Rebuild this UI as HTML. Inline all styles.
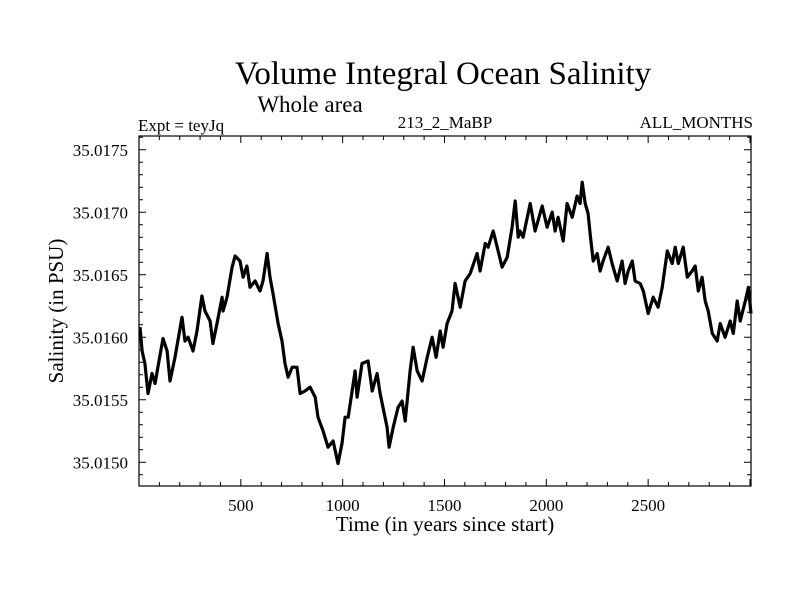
<!DOCTYPE html>
<html><head><meta charset="utf-8"><style>
body{margin:0;background:#fff}
text{font-family:"Liberation Serif",serif;fill:#000}
</style></head><body>
<svg id="chart" width="800" height="600" xmlns="http://www.w3.org/2000/svg">
<rect width="800" height="600" fill="#fff"/>
<text x="443" y="84" font-size="33" text-anchor="middle">Volume Integral Ocean Salinity</text>
<text x="310" y="112" font-size="23" text-anchor="middle">Whole area</text>
<text x="138" y="131" font-size="17">Expt = teyJq</text>
<text x="445" y="128" font-size="17" text-anchor="middle">213_2_MaBP</text>
<text x="753" y="128" font-size="17" text-anchor="end">ALL_MONTHS</text>
<text x="445" y="531" font-size="21" text-anchor="middle">Time (in years since start)</text>
<text transform="translate(63,311) rotate(-90)" font-size="21" text-anchor="middle">Salinity (in PSU)</text>
<g id="axes"></g>
<path id="series" fill="none" stroke="#000" stroke-width="3.2" stroke-linejoin="round"/>
<rect x="139" y="136" width="612" height="350" fill="none" stroke="#000" stroke-width="1.2"/>
</svg>
<script>
const years=[5,15,29,44,64,79,93,118,138,152,177,211,226,241,265,285,309,324,349,363,383,408,413,432,457,472,496,511,530,545,570,594,609,629,643,658,683,702,717,732,752,776,791,815,840,865,879,904,928,953,977,997,1012,1027,1061,1071,1095,1125,1145,1169,1184,1218,1228,1248,1272,1292,1307,1331,1346,1366,1390,1415,1439,1459,1479,1493,1513,1537,1552,1577,1601,1626,1660,1675,1700,1714,1739,1759,1783,1808,1832,1847,1862,1871,1886,1921,1945,1980,2004,2029,2043,2058,2083,2102,2127,2151,2166,2176,2191,2205,2215,2230,2250,2264,2279,2304,2323,2348,2372,2387,2402,2422,2436,2461,2476,2500,2525,2549,2569,2594,2618,2633,2648,2672,2692,2716,2731,2746,2765,2780,2795,2815,2839,2854,2878,2903,2918,2937,2952,2977,2992,3005];
const salinity=[35.01608,35.01589,35.01579,35.01555,35.01571,35.01563,35.01576,35.01599,35.01589,35.01565,35.01584,35.01616,35.01597,35.01600,35.01589,35.01605,35.01633,35.01621,35.01613,35.01595,35.01611,35.01632,35.01621,35.01632,35.01656,35.01665,35.01661,35.01648,35.01657,35.01640,35.01645,35.01637,35.01645,35.01667,35.01648,35.01635,35.01611,35.01597,35.01579,35.01568,35.01576,35.01576,35.01555,35.01557,35.01560,35.01552,35.01536,35.01525,35.01512,35.01517,35.01499,35.01515,35.01536,35.01536,35.01573,35.01552,35.01579,35.01581,35.01557,35.01571,35.01555,35.01528,35.01512,35.01528,35.01544,35.01549,35.01533,35.01573,35.01592,35.01573,35.01565,35.01584,35.01600,35.01584,35.01605,35.01592,35.01611,35.01621,35.01643,35.01624,35.01645,35.01651,35.01667,35.01653,35.01675,35.01672,35.01685,35.01672,35.01656,35.01664,35.01688,35.01709,35.01680,35.01685,35.01680,35.01707,35.01685,35.01705,35.01688,35.01700,35.01685,35.01696,35.01677,35.01707,35.01696,35.01713,35.01707,35.01724,35.01707,35.01699,35.01683,35.01661,35.01667,35.01653,35.01661,35.01672,35.01659,35.01645,35.01661,35.01643,35.01653,35.01661,35.01645,35.01643,35.01637,35.01619,35.01632,35.01624,35.01640,35.01669,35.01659,35.01672,35.01659,35.01672,35.01648,35.01653,35.01657,35.01637,35.01648,35.01629,35.01621,35.01603,35.01597,35.01611,35.01600,35.01613,35.01603,35.01629,35.01613,35.01629,35.01640,35.01619];
const xTickLabels=[500,1000,1500,2000,2500];
const yTickLabels=["35.0150","35.0155","35.0160","35.0165","35.0170","35.0175"];
const X0=139,X1=751,Y0=486,Y1=136,xMax=3005;
const yMin=35.01481,yMax=35.01761;
function xs(t){return X0+(t/xMax)*(X1-X0);}
function ys(v){return Y0-(v-yMin)/(yMax-yMin)*(Y0-Y1);}
const NS="http://www.w3.org/2000/svg";
const axes=document.getElementById('axes');
function line(x1,y1,x2,y2,name){const l=document.createElementNS(NS,'line');
l.setAttribute('x1',x1);l.setAttribute('y1',y1);l.setAttribute('x2',x2);l.setAttribute('y2',y2);
l.setAttribute('stroke','#000');l.setAttribute('stroke-width','1');


axes.appendChild(l);}
function txt(x,y,s,anchor,name){const t=document.createElementNS(NS,'text');
t.setAttribute('x',x);t.setAttribute('y',y);t.setAttribute('font-size','17');t.setAttribute('text-anchor',anchor);t.textContent=s;


axes.appendChild(t);}
for(let t=100;t<xMax;t+=100){const x=xs(t),L=(t%500===0)?7:4;
line(x,Y0,x,Y0-L,'x-tick');line(x,Y1,x,Y1+L,'x-tick-top');}
xTickLabels.forEach(t=>txt(xs(t),511,String(t),'middle','x-tick-label'));
for(let k=0;k<=28;k++){const v=35.0148+k*0.0001;if(v<yMin||v>yMax)continue;const y=ys(v);
const major=(k%5===2);const L=major?7:4;
line(X0,y,X0+L,y,'y-tick');line(X1,y,X1-L,y,'y-tick-right');}
yTickLabels.forEach(s=>txt(128,ys(parseFloat(s))+6,s,'end','y-tick-label'));
let d='';years.forEach((t,i)=>{d+=(i?'L':'M')+xs(t).toFixed(1)+','+ys(salinity[i]).toFixed(1);});
document.getElementById('series').setAttribute('d',d);
</script>
</body></html>
